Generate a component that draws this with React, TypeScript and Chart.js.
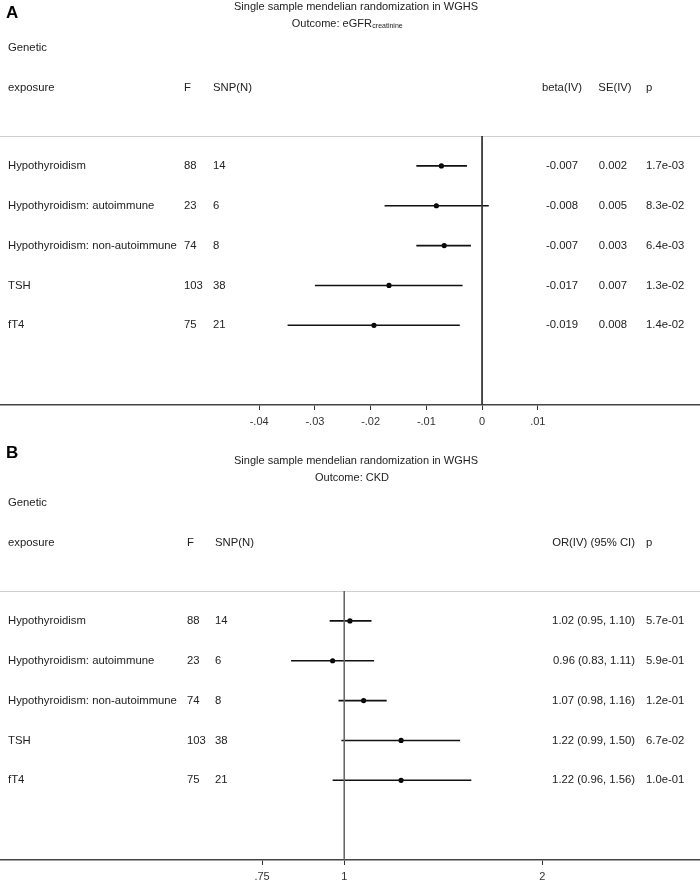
import React, { useEffect, useRef } from 'react';
import { Chart, registerables } from 'chart.js';

Chart.register(...registerables);

const FONT = '"Liberation Sans", Arial, Helvetica, sans-serif';
const TEXT = '#222';

// ---------- shared row data ----------
const exposures = [
  'Hypothyroidism',
  'Hypothyroidism: autoimmune',
  'Hypothyroidism: non-autoimmune',
  'TSH',
  'fT4',
];
const fStats = ['88', '23', '74', '103', '75'];
const snpCounts = ['14', '6', '8', '38', '21'];
const rowPos = [1, 2, 3, 4, 5];

// ---------- panel A: eGFR (beta) ----------
const betaPoint = [-0.0073, -0.0082, -0.0068, -0.0167, -0.0194];
const betaLow = [-0.0118, -0.0175, -0.0118, -0.03, -0.0349];
const betaHigh = [-0.0027, 0.0012, -0.002, -0.0035, -0.004];
const betaText = ['-0.007', '-0.008', '-0.007', '-0.017', '-0.019'];
const seText = ['0.002', '0.005', '0.003', '0.007', '0.008'];
const pTextA = ['1.7e-03', '8.3e-02', '6.4e-03', '1.3e-02', '1.4e-02'];
const ticksA = [-0.04, -0.03, -0.02, -0.01, 0, 0.01];
const tickLabelsA = ['-.04', '-.03', '-.02', '-.01', '0', '.01'];

// ---------- panel B: CKD (OR, log scale) ----------
const orPoint = [1.02, 0.96, 1.07, 1.22, 1.22];
const orLow = [0.95, 0.83, 0.98, 0.99, 0.96];
const orHigh = [1.1, 1.11, 1.16, 1.5, 1.56];
const orText = [
  '1.02 (0.95, 1.10)',
  '0.96 (0.83, 1.11)',
  '1.07 (0.98, 1.16)',
  '1.22 (0.99, 1.50)',
  '1.22 (0.96, 1.56)',
];
const pTextB = ['5.7e-01', '5.9e-01', '1.2e-01', '6.7e-02', '1.0e-01'];
const ticksB = [0.75, 1, 2];
const tickLabelsB = ['.75', '1', '2'];

type Align = 'left' | 'right' | 'center';
interface Column {
  header: string;
  hx: number;
  halign: Align;
  values: string[];
  x: number;
  align: Align;
}
interface PanelSpec {
  height: number;
  padTop: number;
  padBottom: number;
  letter: string;
  letterY: number;
  title: string;
  titleY: number;
  outcome: string;
  outcomeSub: string;
  outcomeY: number;
  outcomeCx: number;
  xType: 'linear' | 'logarithmic';
  xMin: number;
  xMax: number;
  ticks: number[];
  tickLabels: string[];
  refValue: number;
  refColor: string;
  point: number[];
  low: number[];
  high: number[];
  columns: Column[];
}

const Y_MIN = 0.25;
const Y_MAX = 7;
const HEADER_ROWS = [-1.95, -0.95];

function baseColumns(fx: number, snpx: number): Column[] {
  return [
    { header: 'exposure', hx: 8, halign: 'left', values: exposures, x: 8, align: 'left' },
    { header: 'F', hx: fx, halign: 'left', values: fStats, x: fx, align: 'left' },
    { header: 'SNP(N)', hx: snpx, halign: 'left', values: snpCounts, x: snpx, align: 'left' },
  ];
}

const panelA: PanelSpec = {
  height: 441,
  padTop: 136,
  padBottom: 8,
  letter: 'A',
  letterY: 13,
  title: 'Single sample mendelian randomization in WGHS',
  titleY: 7,
  outcome: 'Outcome: eGFR',
  outcomeSub: 'creatinine',
  outcomeY: 24,
  outcomeCx: 347,
  xType: 'linear',
  xMin: -0.0865,
  xMax: 0.0391,
  ticks: ticksA,
  tickLabels: tickLabelsA,
  refValue: 0,
  refColor: '#333',
  point: betaPoint,
  low: betaLow,
  high: betaHigh,
  columns: [
    ...baseColumns(184, 213),
    { header: 'beta(IV)', hx: 562, halign: 'center', values: betaText, x: 578, align: 'right' },
    { header: 'SE(IV)', hx: 615, halign: 'center', values: seText, x: 627, align: 'right' },
    { header: 'p', hx: 646, halign: 'left', values: pTextA, x: 646, align: 'left' },
  ],
};

const panelB: PanelSpec = {
  height: 441,
  padTop: 150,
  padBottom: -6,
  letter: 'B',
  letterY: 12,
  title: 'Single sample mendelian randomization in WGHS',
  titleY: 20,
  outcome: 'Outcome: CKD',
  outcomeSub: '',
  outcomeY: 37,
  outcomeCx: 352,
  xType: 'logarithmic',
  xMin: 0.2997,
  xMax: 3.473,
  ticks: ticksB,
  tickLabels: tickLabelsB,
  refValue: 1,
  refColor: '#666',
  point: orPoint,
  low: orLow,
  high: orHigh,
  columns: [
    ...baseColumns(187, 215),
    { header: 'OR(IV) (95% CI)', hx: 635, halign: 'right', values: orText, x: 635, align: 'right' },
    { header: 'p', hx: 646, halign: 'left', values: pTextB, x: 646, align: 'left' },
  ],
};

function txt(ctx: CanvasRenderingContext2D, s: string, x: number, y: number, align: Align, font: string, color = TEXT) {
  ctx.font = font;
  ctx.fillStyle = color;
  ctx.textAlign = align;
  ctx.textBaseline = 'middle';
  ctx.fillText(s, x, y);
}

function makeChart(canvas: HTMLCanvasElement, spec: PanelSpec) {
  const datasets: any[] = [];
  datasets.push({
    label: 'ref',
    data: [
      { x: spec.refValue, y: Y_MIN },
      { x: spec.refValue, y: Y_MAX },
    ],
    showLine: true,
    borderColor: spec.refColor,
    borderWidth: 1,
    pointRadius: 0,
  });
  rowPos.forEach((r, i) => {
    datasets.push({
      label: 'ci' + i,
      data: [
        { x: spec.low[i], y: r },
        { x: spec.high[i], y: r },
      ],
      showLine: true,
      borderColor: '#111',
      borderWidth: 1.6,
      pointRadius: 0,
    });
  });
  datasets.push({
    label: 'est',
    data: rowPos.map((r, i) => ({ x: spec.point[i], y: r })),
    showLine: false,
    pointRadius: 2.6,
    pointStyle: 'circle',
    backgroundColor: '#000',
    borderColor: '#000',
    borderWidth: 0,
  });

  const textPlugin = {
    id: 'forestText',
    beforeDatasetsDraw(chart: any) {
      const ctx = chart.ctx as CanvasRenderingContext2D;
      const top = chart.chartArea.top;
      ctx.save();
      ctx.strokeStyle = '#cfcfcf';
      ctx.lineWidth = 1;
      ctx.beginPath();
      ctx.moveTo(0, top + 0.5);
      ctx.lineTo(chart.width, top + 0.5);
      ctx.stroke();
      ctx.restore();
    },
    afterDraw(chart: any) {
      const ctx = chart.ctx as CanvasRenderingContext2D;
      const y = chart.scales.y;
      const f11 = `11.3px ${FONT}`;
      ctx.save();
      txt(ctx, spec.letter, 6, spec.letterY, 'left', `bold 17px ${FONT}`, '#000');
      txt(ctx, spec.title, 356, spec.titleY, 'center', `11px ${FONT}`);
      ctx.font = `11px ${FONT}`;
      const wMain = ctx.measureText(spec.outcome).width;
      const fSub = `7px ${FONT}`;
      ctx.font = fSub;
      const wSub = spec.outcomeSub ? ctx.measureText(spec.outcomeSub).width : 0;
      const startX = spec.outcomeCx - (wMain + wSub) / 2;
      txt(ctx, spec.outcome, startX, spec.outcomeY, 'left', `11px ${FONT}`);
      if (spec.outcomeSub) txt(ctx, spec.outcomeSub, startX + wMain + 0.5, spec.outcomeY + 2.5, 'left', fSub);
      txt(ctx, 'Genetic', 8, y.getPixelForValue(HEADER_ROWS[0]), 'left', f11);
      const hy = y.getPixelForValue(HEADER_ROWS[1]);
      spec.columns.forEach((c) => {
        txt(ctx, c.header, c.hx, hy, c.halign, f11);
        c.values.forEach((v, i) => {
          txt(ctx, v, c.x, y.getPixelForValue(rowPos[i]), c.align, f11);
        });
      });
      ctx.restore();
    },
  };

  return new Chart(canvas, {
    type: 'scatter',
    data: { datasets },
    options: {
      responsive: false,
      animation: false,
      devicePixelRatio: 1,
      layout: { autoPadding: false, padding: { top: spec.padTop, bottom: spec.padBottom, left: 0, right: 0 } },
      plugins: { legend: { display: false }, tooltip: { enabled: false } },
      scales: {
        x: {
          type: spec.xType,
          min: spec.xMin,
          max: spec.xMax,
          afterBuildTicks: (scale: any) => {
            scale.ticks = spec.ticks.map((v) => ({ value: v }));
          },
          ticks: {
            autoSkip: false,
            maxRotation: 0,
            padding: 6,
            color: '#333',
            font: { family: FONT, size: 11, lineHeight: 1 },
            callback: (_v: any, i: number) => spec.tickLabels[i],
          },
          grid: { drawOnChartArea: false, drawTicks: true, tickLength: 5, color: '#333', lineWidth: 1 },
          border: { display: true, color: '#444', width: 1.5 },
        },
        y: { type: 'linear', display: false, min: Y_MIN, max: Y_MAX, reverse: true },
      },
    } as any,
    plugins: [textPlugin],
  });
}

function Panel({ spec, top }: { spec: PanelSpec; top: number }) {
  const ref = useRef<HTMLCanvasElement>(null);
  useEffect(() => {
    if (!ref.current) return;
    const chart = makeChart(ref.current, spec);
    return () => chart.destroy();
  }, [spec]);
  return (
    <canvas
      ref={ref}
      width={700}
      height={spec.height}
      style={{ position: 'absolute', left: 0, top, width: 700, height: spec.height, display: 'block' }}
    />
  );
}

export default function App() {
  return (
    <div style={{ position: 'absolute', left: 0, top: 0, width: 700, height: 882, background: '#fff', overflow: 'hidden' }}>
      <Panel spec={panelA} top={0} />
      <Panel spec={panelB} top={441} />
    </div>
  );
}
